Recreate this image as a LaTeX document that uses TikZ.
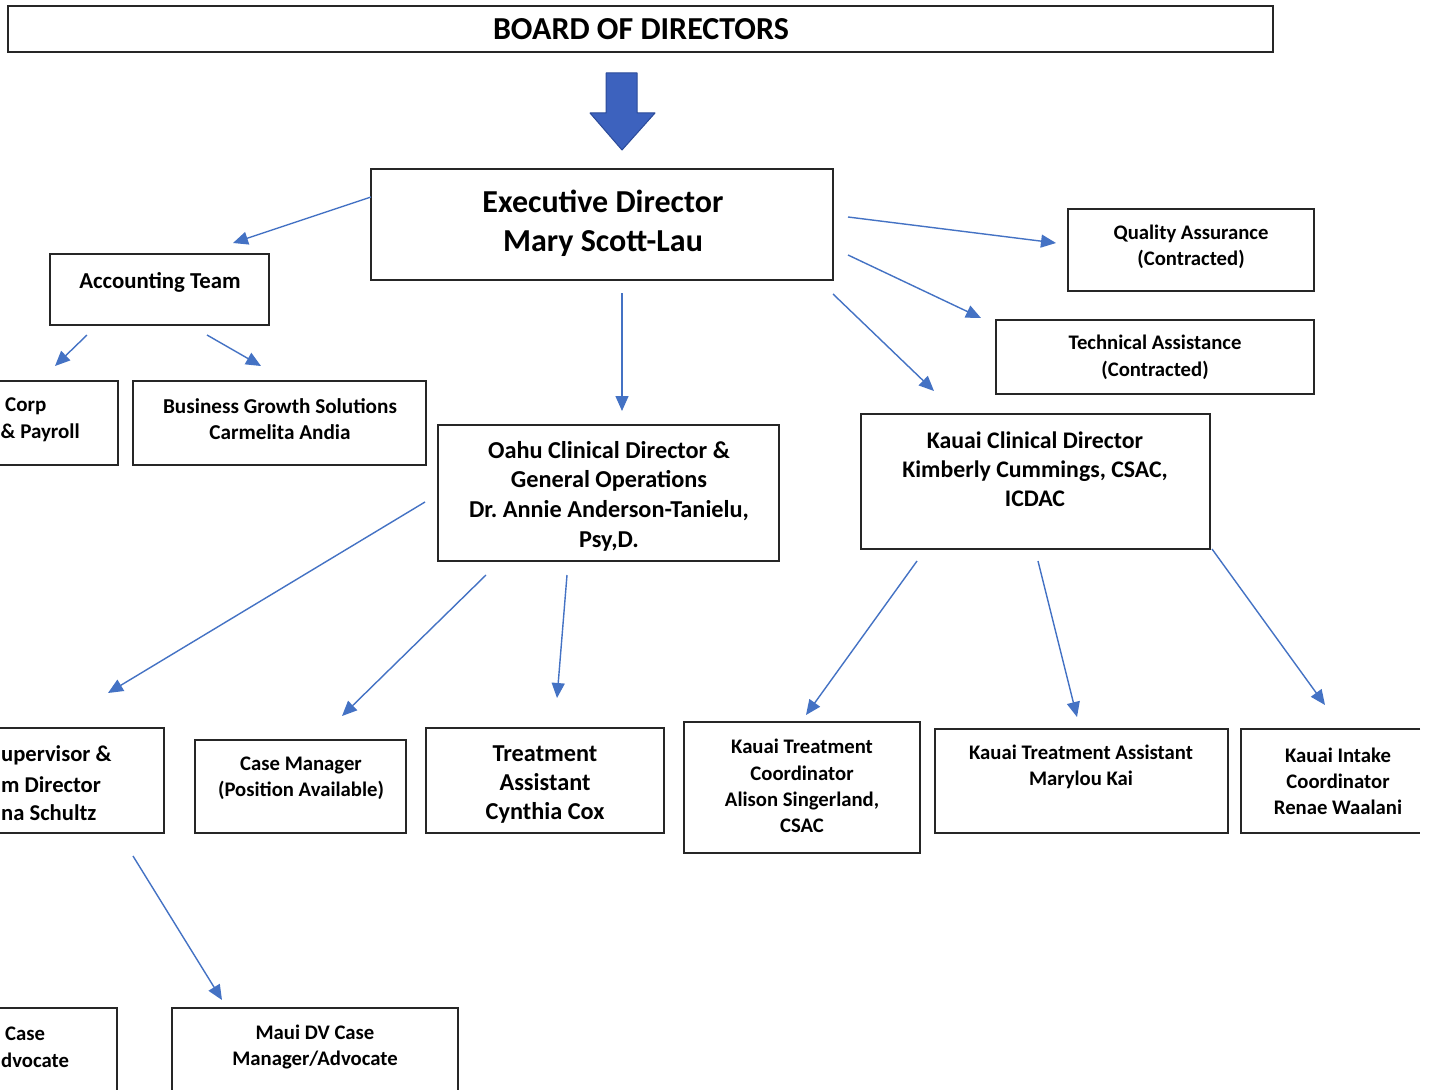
\documentclass[tikz,border=0pt]{standalone}
\usepackage{fontspec}
\setmainfont{Carlito}
\usetikzlibrary{arrows.meta}
\definecolor{boxc}{HTML}{262626}
\definecolor{arrowc}{HTML}{4472C4}
\definecolor{blockc}{HTML}{3D62BE}
\definecolor{blockd}{HTML}{2B4A99}
\newcommand\bx[5]{\node[box, minimum width={(#4)-(#2)}, minimum height={(#5)-(#3)}] (#1) at ({((#2)+(#4))/2},{((#3)+(#5))/2}) {};}
\newcommand\fsz[2]{\fontsize{#1}{#2}\selectfont\bfseries}
\frenchspacing
\begin{document}
\begin{tikzpicture}[x=1pt,y=-1pt,
  box/.style={draw=boxc, line width=1.8pt, inner sep=0pt, fill=white},
  lbl/.style={align=center, text=black, inner sep=0pt},
  conn/.style={draw=arrowc, line width=1.4pt, -{Triangle[length=15pt,width=13pt]}}]
\useasboundingbox[fill=white] (0,0) rectangle (1431,1089);

% boxes
\bx{board}{8}{6}{1273}{52}
\bx{exec}{371}{169}{833}{280}
\bx{acct}{50}{254}{269}{325}
\bx{corp}{-30}{381}{118}{465}
\bx{bgs}{133}{381}{426}{465}
\bx{qa}{1068}{209}{1314}{291}
\bx{tech}{996}{320}{1314}{394}
\bx{oahu}{438}{425}{779}{561}
\bx{kauai}{861}{414}{1210}{549}
\bx{sup}{-30}{728}{164}{833}
\bx{cm}{195}{740}{406}{833}
\bx{tra}{426}{728}{664}{833}
\bx{ktc}{684}{722}{920}{853}
\bx{kta}{935}{729}{1228}{833}
\node[inner sep=0pt, minimum width=179pt, minimum height=104pt] (kic) at (1330.5,781) {};
\draw[boxc, line width=1.8pt] (kic.north east) -- (kic.north west) -- (kic.south west) -- (kic.south east);
\bx{cadv}{-30}{1008}{117}{1100}
\bx{maui}{172}{1008}{458}{1100}

% texts
\node[lbl, font=\fsz{32}{38}] (boardT) at (641,29) {BOARD OF DIRECTORS};
\node[lbl, font=\fsz{32}{39}] (execT) at (603,223) {Executive Director\\Mary Scott-Lau};
\node[lbl, font=\fsz{22.8}{27}] (acctT) at (160,282) {Accounting Team};
\node[lbl, font=\fsz{21}{27}, anchor=west] (corpT1) at (5,406) {Corp};
\node[lbl, font=\fsz{21}{27}, anchor=west] (corpT2) at (0.5,433) {\& Payroll};
\node[lbl, font=\fsz{21.2}{26}] (bgsT) at (280,419) {Business Growth Solutions\\Carmelita Andia};
\node[lbl, font=\fsz{20.7}{26}] (qaT) at (1191,247) {Quality Assurance\\(Contracted)};
\node[lbl, font=\fsz{20.7}{27}] (techT) at (1155,357) {Technical Assistance\\(Contracted)};
\node[lbl, font=\fsz{24.3}{29.7}] (oahuT) at (609,496) {Oahu Clinical Director \&\\General Operations\\Dr. Annie Anderson-Tanielu,\\Psy,D.};
\node[lbl, font=\fsz{23.8}{29}] (kauaiT) at (1035,469) {Kauai Clinical Director\\Kimberly Cummings, CSAC,\\ICDAC};
\node[lbl, font=\fsz{22.6}{29}, anchor=west] (supT1) at (1,755) {upervisor \&};
\node[lbl, font=\fsz{22.6}{29}, anchor=west] (supT2) at (1,785) {m Director};
\node[lbl, font=\fsz{22.6}{29}, anchor=west] (supT3) at (1,813) {na Schultz};
\node[lbl, font=\fsz{20.7}{26}] (cmT) at (301,778) {Case Manager\\(Position Available)};
\node[lbl, font=\fsz{24.3}{29}] (traT) at (545,785) {Treatment\\Assistant\\Cynthia Cox};
\node[lbl, font=\fsz{20.7}{26.3}] (ktcT) at (802,786) {Kauai Treatment\\Coordinator\\Alison Singerland,\\CSAC};
\node[lbl, font=\fsz{20.7}{26}] (ktaT) at (1081,767) {Kauai Treatment Assistant\\Marylou Kai};
\node[lbl, font=\fsz{20.7}{26}] (kicT) at (1338,781) {Kauai Intake\\Coordinator\\Renae Waalani};
\node[lbl, font=\fsz{20.7}{26}, anchor=west] (cadvT1) at (5,1034) {Case};
\node[lbl, font=\fsz{20.7}{26}, anchor=west] (cadvT2) at (1,1060) {dvocate};
\node[lbl, font=\fsz{20.7}{26}] (mauiT) at (315,1047) {Maui DV Case\\Manager/Advocate};

% block arrow from board to executive director
\filldraw[fill=blockc, draw=blockd, line width=1pt, line join=round]
  (606,73) -- (637,73) -- (637,113) -- (655,113) -- (622,150) -- (590,113) -- (606,113) -- cycle;

% connectors
\coordinate (a1s) at (371,197);  \coordinate (a1e) at (233,243);
\coordinate (a2s) at (848,217);  \coordinate (a2e) at (1056,243);
\coordinate (a3s) at (848,255);  \coordinate (a3e) at (981,318);
\coordinate (a4s) at (833,294);  \coordinate (a4e) at (934,391);
\coordinate (a5s) at (622,293);  \coordinate (a5e) at (622,411);
\coordinate (b1s) at (87,335);   \coordinate (b1e) at (55,366);
\coordinate (b2s) at (207,335);  \coordinate (b2e) at (261,366);
\coordinate (c1s) at (425,502);  \coordinate (c1e) at (108,693);
\coordinate (c2s) at (486,575);  \coordinate (c2e) at (342,716);
\coordinate (c3s) at (567,575);  \coordinate (c3e) at (557,698);
\coordinate (d1s) at (917,561);  \coordinate (d1e) at (806,715);
\coordinate (d2s) at (1038,561); \coordinate (d2e) at (1077,717);
\coordinate (d3s) at (1212,549); \coordinate (d3e) at (1325,705);
\coordinate (e1s) at (133,856);  \coordinate (e1e) at (222,1000);

\foreach \p in {a1,a2,a3,a4,a5,b1,b2,c1,c2,c3,d1,d2,d3,e1}
  \draw[conn] (\p s) -- (\p e);
\end{tikzpicture}
\end{document}
